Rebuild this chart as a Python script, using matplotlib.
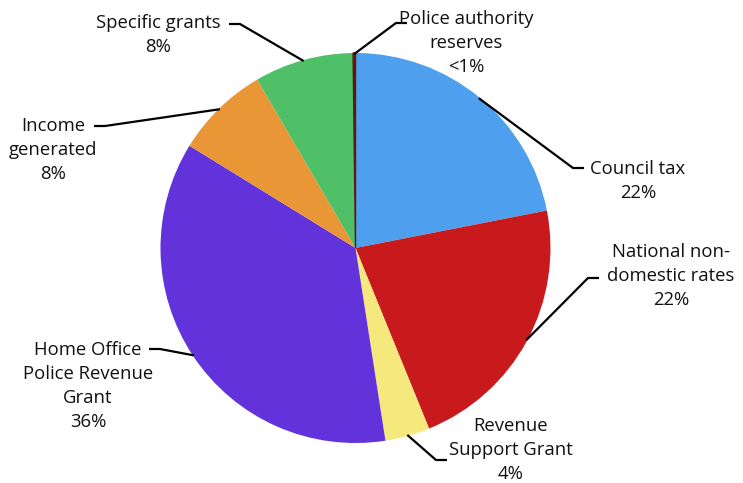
import matplotlib
matplotlib.use("Agg")
import matplotlib.pyplot as plt
import numpy as np

plt.rcParams['font.family'] = ['Open Sans', 'DejaVu Sans']

# Police authority funding sources
sources = ['Council tax', 'National non-\ndomestic rates', 'Revenue\nSupport Grant',
           'Home Office\nPolice Revenue\nGrant', 'Income\ngenerated', 'Specific grants',
           'Police authority\nreserves']
shares = [21.9, 21.9, 3.7, 36.2, 7.8, 8.2, 0.2]
colours = ['#4f9fef', '#c8191c', '#f5e97e', '#6233db', '#e89636', '#50c068', '#5b1a0c']

W, H = 743, 483
fig = plt.figure(figsize=(W / 100, H / 100), dpi=100)
ax = fig.add_axes([0, 0, 1, 1])

cx, cy, R = 355.5, H - 248, 195
wedges, _ = ax.pie(shares, colors=colours, startangle=90, counterclock=False,
                   center=(cx, cy), radius=R, frame=True,
                   wedgeprops=dict(linewidth=0))
wedges[-1].set_edgecolor(colours[-1])
wedges[-1].set_linewidth(1.0)
ax.set_xlim(0, W)
ax.set_ylim(0, H)
ax.set_aspect('equal')
ax.axis('off')

# elbow of each leader line (x, y from top), direction of the short tail, label centre
elbows = [(573, 168, 1), (588, 278, 1), (436, 460, 1), (160, 349, -1),
          (105, 126, -1), (240, 24, -1), (396, 23, 1)]
label_pos = [(638, 181), (671, 276), (511, 450), (88, 386),
             (53, 150), (158, 35), (466, 43)]


def pct(v):
    return '<1%' if v < 1 else '%d%%' % round(v)


for w, name, v, (ex, ey, d), (lx, ly) in zip(wedges, sources, shares, elbows, label_pos):
    mid = np.deg2rad((w.theta1 + w.theta2) / 2)
    sx, sy = cx + 0.995 * R * np.cos(mid), cy + 0.995 * R * np.sin(mid)
    ax.plot([sx, ex, ex + 11 * d], [sy, H - ey, H - ey], color='black', lw=1.6,
            solid_capstyle='butt', solid_joinstyle='miter')
    ax.text(lx, H - ly, name + '\n' + pct(v), ha='center', va='center',
            fontsize=13.3, linespacing=1.45, color='#111111')

fig.savefig('out.png', dpi=100)
